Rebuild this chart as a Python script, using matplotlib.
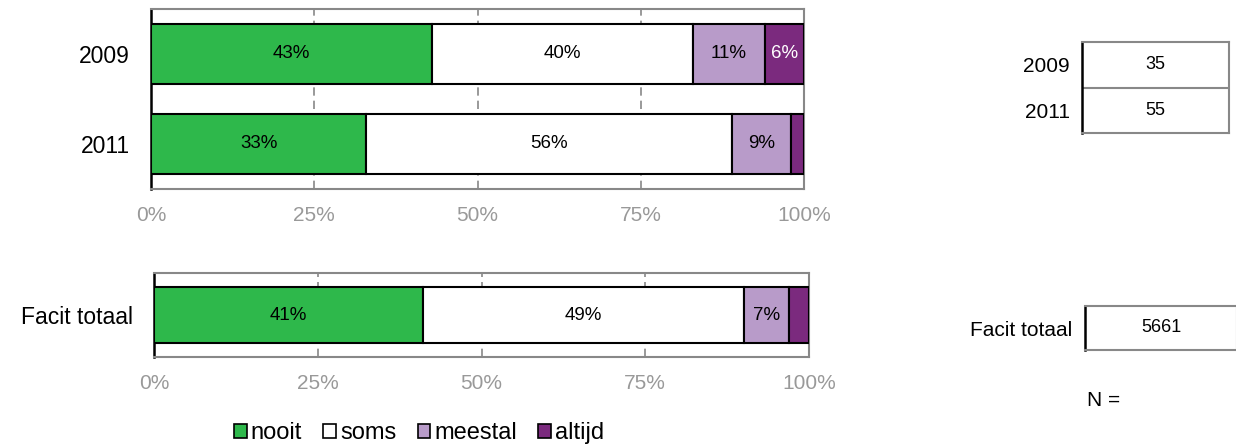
import matplotlib
matplotlib.use("Agg")
import matplotlib.pyplot as plt
from matplotlib.patches import Patch

plt.rcParams['font.family'] = ['Liberation Sans', 'DejaVu Sans']

# data
categories = ["nooit", "soms", "meestal", "altijd"]
years = ["2009", "2011"]
year_values = [
    [43, 40, 11, 6],
    [33, 56, 9, 2],
]
total_label = "Facit totaal"
total_values = [41, 49, 7, 3]
year_n = [35, 55]
total_n = [5661]

colors = ["#2eb84b", "#ffffff", "#b89bc9", "#7b2a7e"]
text_colors = ["black", "black", "black", "white"]

W, H = 1236, 447
fig = plt.figure(figsize=(W / 100, H / 100), dpi=100)


def px_axes(left, top, right, bottom):
    return fig.add_axes([left / W, 1 - bottom / H, (right - left) / W, (bottom - top) / H])


def stacked(ax, labels, rows):
    for i, row in enumerate(rows):
        start = 0
        for j, v in enumerate(row):
            ax.barh(i, v, left=start, height=0.667, color=colors[j],
                    edgecolor="black", linewidth=1.5, zorder=3)
            if v >= 5:
                ax.text(start + v / 2, i, f"{v}%", ha="center", va="center",
                        fontsize=13.5, color=text_colors[j], zorder=4)
            start += v
    ax.set_xlim(0, 100)
    ax.set_ylim(len(rows) - 0.5, -0.5)
    ax.set_yticks(range(len(rows)))
    ax.set_yticklabels(labels, fontsize=16.5)
    ax.set_xticks([0, 25, 50, 75, 100])
    ax.set_xticklabels(["0%", "25%", "50%", "75%", "100%"], fontsize=15, color="#999999")
    ax.tick_params(axis="x", length=0, pad=12)
    ax.tick_params(axis="y", length=0, pad=15)
    for x in [25, 50, 75]:
        ax.axvline(x, color="#888888", linestyle=(0, (5, 3)), linewidth=1.2, zorder=1)
    for s in ["top", "right", "bottom"]:
        ax.spines[s].set_color("#888888")
        ax.spines[s].set_linewidth(1.5)
    ax.spines["left"].set_color("black")
    ax.spines["left"].set_linewidth(1.8)


ax1 = px_axes(151, 9, 804, 189)
stacked(ax1, years, year_values)

ax2 = px_axes(154, 273, 809, 357)
stacked(ax2, [total_label], [total_values])


def n_table(ax, labels, values):
    ax.set_xlim(0, 1)
    ax.set_ylim(len(values) - 0.5, -0.5)
    for i, v in enumerate(values):
        ax.text(0.5, i, str(v), ha="center", va="center", fontsize=13)
        if i > 0:
            ax.axhline(i - 0.5, color="#888888", linewidth=1.5)
    ax.set_yticks(range(len(values)))
    ax.set_yticklabels(labels, fontsize=15)
    ax.set_xticks([])
    ax.tick_params(axis="y", length=0, pad=9)
    for s in ["top", "right", "bottom"]:
        ax.spines[s].set_color("#888888")
        ax.spines[s].set_linewidth(1.5)
    ax.spines["left"].set_color("black")
    ax.spines["left"].set_linewidth(1.8)


ax3 = px_axes(1082, 42, 1229, 133)
n_table(ax3, years, year_n)

ax4 = px_axes(1085, 306, 1237, 350)
n_table(ax4, [total_label], total_n)

fig.text(1087 / W, 1 - 400 / H, "N =", fontsize=15, ha="left", va="center")

handles = [Patch(facecolor=c, edgecolor="black", linewidth=1.2) for c in colors]
fig.legend(handles, categories, loc="center", bbox_to_anchor=(419 / W, 1 - 433 / H),
           ncol=4, frameon=False, fontsize=17, handlelength=0.55, handleheight=0.55,
           handletextpad=0.15, columnspacing=0.9, borderpad=0)

fig.savefig("out.png", dpi=100)
